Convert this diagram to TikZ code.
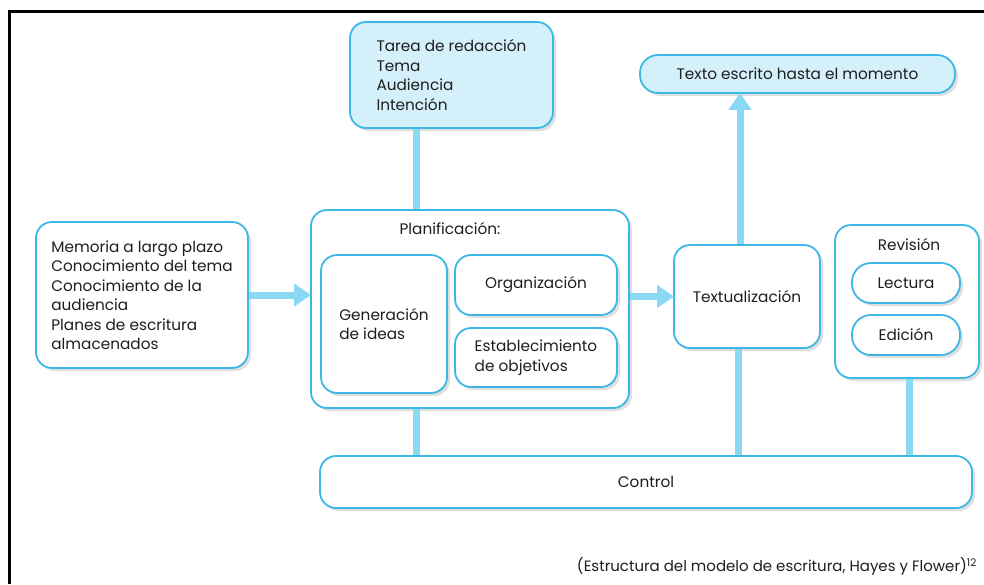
\documentclass[tikz,border=0pt]{standalone}
\usepackage{fontspec}
\setmainfont{Poppins}
\usetikzlibrary{arrows.meta,shadows,calc}
\definecolor{bord}{HTML}{3DB7E6}
\definecolor{lfill}{HTML}{D4F0FA}
\definecolor{conn}{HTML}{8AD8F4}
\definecolor{txt}{HTML}{1E1E1E}
\tikzset{
  box/.style={draw=bord, line width=1.8pt, rounded corners=16pt, fill=white,
    drop shadow={opacity=0.25, shadow xshift=3pt, shadow yshift=-3pt},
    text=txt, font=\fontsize{15.3}{19.5}\selectfont, inner sep=0pt, align=left},
  lbox/.style={box, fill=lfill},
  pill/.style={box, rounded corners=19pt},
  title/.style={text=txt, font=\fontsize{15.3}{19.5}\selectfont, inner sep=0pt},
  conn/.style={draw=conn, line width=7pt},
  arr/.style={conn, -{Triangle[width=22pt,length=17pt]}, shorten >=-1pt},
}
\begin{document}
\begin{tikzpicture}[x=1pt,y=-1pt]
\useasboundingbox (0,0) rectangle (984,584);
\draw[line width=3pt] (9,584) -- (9,11) -- (984,11);

% nodes
\node[lbox, minimum width=203pt, minimum height=106pt] (tarea) at (451.5,75)
  {Tarea de redacción\\Tema\\Audiencia\\Intención};
\node[lbox, minimum width=315pt, minimum height=38pt, rounded corners=18pt] (texto) at (797.5,74)
  {Texto escrito hasta el momento};
\node[box, minimum width=212pt, minimum height=146pt] (mem) at (142,295)
  {Memoria a largo plazo\\Conocimiento del tema\\Conocimiento de la\\audiencia\\Planes de escritura\\almacenados};
\node[box, minimum width=318pt, minimum height=198pt] (plan) at (470,309) {};
\node[title] (plant) at (450,229) {Planificación:};
\node[box, minimum width=126pt, minimum height=138pt] (gen) at (384,324)
  {Generación\\de ideas};
\node[box, minimum width=162pt, minimum height=60pt] (org) at (536,285)
  {Organización};
\node[box, minimum width=162pt, minimum height=59pt] (est) at (536,357.5)
  {Establecimiento\\de objetivos};
\node[box, minimum width=146pt, minimum height=103pt] (textual) at (747,296.5)
  {Textualización};
\node[box, minimum width=144pt, minimum height=153pt] (rev) at (907,301.5) {};
\node[title] (revt) at (909,245) {Revisión};
\node[pill, minimum width=108pt, minimum height=40pt] (lect) at (906,283) {Lectura};
\node[pill, minimum width=108pt, minimum height=40pt] (edic) at (906,335) {Edición};
\node[box, minimum width=652pt, minimum height=52pt] (ctrl) at (646,482) {Control};

\node[title, anchor=south east, font=\fontsize{15}{18}\selectfont] (cap) at (977,576)
  {(Estructura del modelo de escritura, Hayes y Flower)\textsuperscript{12}};

% connectors
\draw[conn] ([xshift=-35pt]tarea.south) -- ([xshift=-35pt]tarea.south |- plan.north);
\draw[arr] (mem.east) -- (mem.east -| plan.west);
\draw[arr] (textual.west -| plan.east) -- (textual.west);
\draw[arr] ([xshift=-7pt]textual.north) -- ([xshift=-7pt]textual.north |- texto.south);
\draw[conn] ([xshift=-54pt]plan.south) -- ([xshift=-54pt]plan.south |- ctrl.north);
\draw[conn] ([xshift=-9pt]textual.south) -- ([xshift=-9pt]textual.south |- ctrl.north);
\draw[conn] ([xshift=2pt]rev.south) -- ([xshift=2pt]rev.south |- ctrl.north);
\end{tikzpicture}
\end{document}
